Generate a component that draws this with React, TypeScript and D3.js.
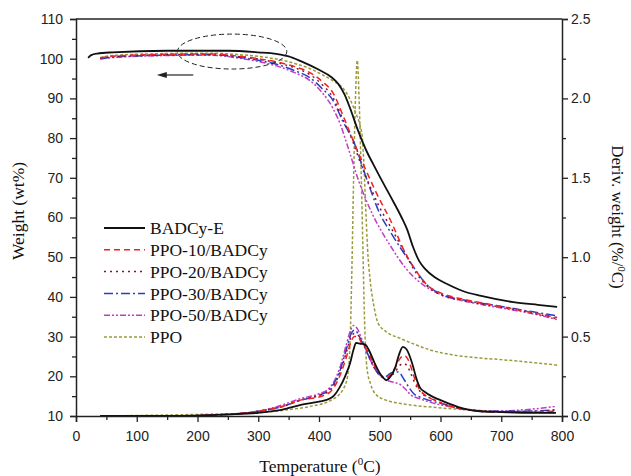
import React, { useEffect, useRef } from 'react';
import * as d3 from 'd3';

// TG curves: [temperature °C, weight %]
const badcyTG = [[20,100.2],[25,100.9],[35,101.3],[60,101.6],[150,102.0],[250,102.0],[300,101.6],[330,101.2],[350,100.6],[370,99.4],[400,97.2],[420,95.4],[432,93.6],[442,91.0],[451,87.6],[464,82.0],[479,76.5],[489,73.5],[500,70.3],[517,65.5],[536,60.0],[545,57.0],[555,52.5],[565,49.0],[575,47.0],[590,45.0],[610,43.3],[640,41.3],[665,40.3],[720,38.7],[760,38.0],[792,37.5]];
const ppo10TG = [[40,100.2],[60,100.6],[150,101.1],[220,101.2],[270,100.6],[300,100.0],[330,99.2],[360,98.0],[385,96.5],[405,94.3],[423,91.4],[440,85.5],[456,79.5],[467,75.5],[480,71.0],[495,66.0],[517,59.5],[544,50.5],[560,46.5],[578,43.0],[600,41.0],[632,39.6],[686,38.0],[740,36.4],[792,34.8]];
const ppo20TG = [[40,100.1],[60,100.5],[150,101.0],[220,101.1],[270,100.5],[300,99.9],[330,99.0],[360,97.7],[385,96.0],[405,93.5],[423,90.2],[440,84.5],[456,79.0],[470,73.0],[485,67.5],[500,62.5],[520,57.0],[540,51.5],[560,46.0],[580,42.5],[600,40.6],[640,39.0],[700,37.4],[750,36.0],[792,34.5]];
const ppo30TG = [[40,100.0],[60,100.4],[150,100.9],[220,101.0],[270,100.3],[300,99.6],[330,98.6],[360,97.0],[385,95.2],[405,92.5],[423,89.5],[440,84.0],[456,79.5],[479,69.5],[500,61.0],[517,56.5],[533,52.6],[550,48.8],[561,46.3],[578,43.0],[600,40.8],[650,38.9],[700,37.6],[750,36.3],[792,35.2]];
const ppo50TG = [[40,99.9],[60,100.3],[150,100.8],[220,100.9],[270,100.1],[300,99.3],[330,98.2],[360,96.5],[385,94.5],[405,91.5],[423,87.5],[435,83.5],[446,78.5],[467,68.5],[489,60.5],[517,53.0],[544,47.0],[570,43.2],[600,40.6],[650,38.6],[700,37.2],[750,35.8],[792,34.3]];
const ppoTG = [[40,100.3],[60,100.8],[150,101.3],[220,101.4],[270,101.0],[300,100.6],[330,99.9],[360,98.8],[385,97.5],[405,96.0],[423,94.4],[440,92.5],[451,89.8],[460,86.5],[467,83.5],[471,80.5],[474,73.0],[477,62.0],[480,52.0],[484,44.5],[490,38.0],[497,33.5],[510,31.3],[533,29.6],[560,27.9],[588,26.4],[620,25.4],[665,24.6],[700,24.2],[750,23.5],[792,22.8]];

// DTG curves: [temperature °C, deriv. weight %/°C]
const badcyDTG = [[40,0.0],[150,0.0],[250,0.01],[300,0.02],[340,0.04],[370,0.07],[400,0.09],[418,0.11],[425,0.13],[434,0.18],[443,0.25],[451,0.33],[457,0.42],[461,0.46],[468,0.455],[476,0.45],[484,0.40],[492,0.33],[500,0.27],[506,0.24],[511,0.225],[518,0.25],[525,0.30],[532,0.39],[538,0.435],[544,0.42],[550,0.37],[555,0.31],[560,0.24],[566,0.18],[575,0.15],[583,0.13],[600,0.10],[616,0.075],[640,0.045],[665,0.03],[700,0.025],[750,0.02],[790,0.02]];
const ppo10DTG = [[40,0.0],[150,0.0],[250,0.01],[300,0.03],[340,0.06],[370,0.10],[400,0.12],[418,0.15],[434,0.25],[445,0.37],[452,0.46],[458,0.50],[464,0.50],[470,0.46],[478,0.42],[486,0.36],[495,0.29],[503,0.25],[510,0.24],[518,0.26],[526,0.31],[533,0.36],[540,0.38],[546,0.36],[552,0.30],[558,0.23],[565,0.17],[575,0.13],[590,0.10],[610,0.07],[640,0.04],[700,0.025],[750,0.025],[790,0.03]];
const ppo20DTG = [[40,0.0],[150,0.0],[250,0.01],[300,0.03],[340,0.06],[370,0.10],[400,0.13],[418,0.16],[434,0.27],[445,0.40],[452,0.49],[458,0.52],[464,0.51],[470,0.47],[478,0.42],[486,0.35],[495,0.28],[503,0.25],[510,0.24],[518,0.25],[526,0.28],[533,0.32],[540,0.33],[546,0.31],[552,0.26],[560,0.19],[570,0.14],[585,0.11],[610,0.07],[640,0.04],[700,0.025],[750,0.03],[790,0.035]];
const ppo30DTG = [[40,0.0],[150,0.0],[250,0.01],[300,0.03],[340,0.06],[370,0.10],[400,0.13],[418,0.17],[434,0.28],[445,0.42],[452,0.51],[458,0.54],[464,0.52],[470,0.47],[478,0.41],[486,0.34],[495,0.28],[503,0.25],[510,0.25],[518,0.27],[526,0.28],[533,0.27],[540,0.23],[548,0.18],[556,0.14],[566,0.12],[580,0.10],[600,0.08],[630,0.05],[680,0.03],[740,0.03],[790,0.04]];
const ppo50DTG = [[40,0.0],[150,0.0],[250,0.01],[300,0.03],[340,0.07],[370,0.11],[400,0.14],[418,0.18],[434,0.30],[445,0.45],[452,0.54],[457,0.57],[463,0.55],[470,0.49],[478,0.41],[486,0.34],[495,0.28],[505,0.24],[515,0.22],[525,0.21],[533,0.20],[542,0.17],[552,0.13],[565,0.11],[580,0.09],[600,0.07],[630,0.05],[680,0.03],[740,0.04],[790,0.06]];
const ppoDTG = [[40,0.0],[200,0.01],[300,0.02],[350,0.04],[385,0.06],[420,0.10],[440,0.17],[447,0.25],[451,0.45],[454,0.9],[457,1.5],[460,2.0],[463,2.24],[466,2.0],[469,1.6],[472,1.1],[475,0.6],[479,0.3],[485,0.2],[495,0.13],[510,0.10],[533,0.08],[560,0.065],[588,0.055],[620,0.045],[665,0.035],[720,0.025],[790,0.02]];

const seriesNames = ['BADCy-E', 'PPO-10/BADCy', 'PPO-20/BADCy', 'PPO-30/BADCy', 'PPO-50/BADCy', 'PPO'];
const tgData = [badcyTG, ppo10TG, ppo20TG, ppo30TG, ppo50TG, ppoTG];
const dtgData = [badcyDTG, ppo10DTG, ppo20DTG, ppo30DTG, ppo50DTG, ppoDTG];
const colors = ['#111111', '#ee2222', '#8a1030', '#2a3fc4', '#c23cc2', '#9a9a3c'];
const dashes = ['none', '6,4', '2,4', '9,3,2,3', '6,2,2,2,2,2', '3,2'];
const widths = [1.8, 1.5, 1.5, 1.5, 1.5, 1.5];

const xTicks = [0, 100, 200, 300, 400, 500, 600, 700, 800];
const yLeftTicks = [10, 20, 30, 40, 50, 60, 70, 80, 90, 100, 110];
const yRightTicks = [0, 0.5, 1.0, 1.5, 2.0, 2.5];

// annotation: dashed ellipse around onset region and arrow to left axis
const ellipseCenter = [257, 101.8];
const ellipseRadii = [90, 4.4];
const arrowFrom = [193, 95.9];
const arrowTo = [133, 95.9];

const App = () => {
  const ref = useRef(null);

  useEffect(() => {
    const svg = d3.select(ref.current);
    svg.selectAll('*').remove();

    const x = d3.scaleLinear().domain([0, 800]).range([76, 562]);
    const yL = d3.scaleLinear().domain([10, 110]).range([416, 19]);
    const yR = d3.scaleLinear().domain([0, 2.5]).range([416, 19]);

    const sans = 'Liberation Sans, Arial, sans-serif';
    const serif = 'Liberation Serif, Times New Roman, serif';

    // curves
    const tgLine = d3.line().x((d) => x(d[0])).y((d) => yL(d[1])).curve(d3.curveMonotoneX);
    const dtgLine = d3.line().x((d) => x(d[0])).y((d) => yR(d[1])).curve(d3.curveMonotoneX);

    const order = [5, 4, 3, 2, 1, 0];
    order.forEach((i) => {
      [tgLine(tgData[i]), dtgLine(dtgData[i])].forEach((p) => {
        svg
          .append('path')
          .attr('d', p)
          .attr('fill', 'none')
          .attr('stroke', colors[i])
          .attr('stroke-width', widths[i])
          .attr('stroke-dasharray', dashes[i]);
      });
    });

    // axes
    const styleAxis = (g) => {
      g.select('.domain').attr('stroke', '#222').attr('stroke-width', 1.5);
      g.selectAll('.tick line').attr('stroke', '#222').attr('stroke-width', 1.3);
      g.selectAll('text').attr('font-family', sans).attr('font-size', 14).attr('fill', '#222');
    };

    const minor = (vals) => vals.slice(0, -1).map((v, i) => (v + vals[i + 1]) / 2);

    svg.append('g').attr('transform', 'translate(0,416)')
      .call(d3.axisBottom(x).tickValues(xTicks).tickSize(6).tickPadding(9).tickFormat(d3.format('d')))
      .call(styleAxis);
    svg.append('g').attr('transform', 'translate(0,416)')
      .call(d3.axisBottom(x).tickValues(minor(xTicks)).tickSize(4).tickFormat(''))
      .call(styleAxis).call((g) => g.select('.domain').remove());

    svg.append('g').attr('transform', 'translate(76,0)')
      .call(d3.axisLeft(yL).tickValues(yLeftTicks).tickSize(6).tickPadding(7).tickFormat(d3.format('d')))
      .call(styleAxis);
    svg.append('g').attr('transform', 'translate(76,0)')
      .call(d3.axisLeft(yL).tickValues(minor(yLeftTicks)).tickSize(4).tickFormat(''))
      .call(styleAxis).call((g) => g.select('.domain').remove());

    svg.append('g').attr('transform', 'translate(562,0)')
      .call(d3.axisRight(yR).tickValues(yRightTicks).tickSize(6).tickPadding(3).tickFormat(d3.format('.1f')))
      .call(styleAxis);
    svg.append('g').attr('transform', 'translate(562,0)')
      .call(d3.axisRight(yR).tickValues(minor(yRightTicks)).tickSize(4).tickFormat(''))
      .call(styleAxis).call((g) => g.select('.domain').remove());

    svg.append('line')
      .attr('x1', x(0)).attr('x2', x(800)).attr('y1', yL(110)).attr('y2', yL(110))
      .attr('stroke', '#222').attr('stroke-width', 1.5);

    // annotation
    svg.append('ellipse')
      .attr('cx', x(ellipseCenter[0]))
      .attr('cy', yL(ellipseCenter[1]))
      .attr('rx', x(ellipseCenter[0] + ellipseRadii[0]) - x(ellipseCenter[0]))
      .attr('ry', yL(ellipseCenter[1] - ellipseRadii[1]) - yL(ellipseCenter[1]))
      .attr('fill', 'none')
      .attr('stroke', '#222')
      .attr('stroke-width', 1)
      .attr('stroke-dasharray', '5,3');

    const ax1 = x(arrowFrom[0]);
    const ax2 = x(arrowTo[0]);
    const ay = yL(arrowFrom[1]);
    svg.append('line')
      .attr('x1', ax1).attr('x2', ax2 + 8).attr('y1', ay).attr('y2', ay)
      .attr('stroke', '#222').attr('stroke-width', 1.2);
    svg.append('path')
      .attr('d', `M${ax2},${ay} L${ax2 + 10},${ay - 3} L${ax2 + 10},${ay + 3} Z`)
      .attr('fill', '#222');

    // legend
    const legend = svg.append('g');
    seriesNames.forEach((name, i) => {
      const ly = 228 + i * 21.8;
      legend.append('line')
        .attr('x1', 104).attr('x2', 145).attr('y1', ly).attr('y2', ly)
        .attr('stroke', colors[i]).attr('stroke-width', widths[i])
        .attr('stroke-dasharray', dashes[i]);
      legend.append('text')
        .attr('x', 150).attr('y', ly).attr('dy', '0.35em')
        .attr('font-family', serif).attr('font-size', 17.5).attr('fill', '#111')
        .text(name);
    });

    // axis titles
    const xt = svg.append('text')
      .attr('x', 320).attr('y', 472)
      .attr('text-anchor', 'middle')
      .attr('font-family', serif).attr('font-size', 17.5).attr('fill', '#111');
    xt.append('tspan').text('Temperature (');
    xt.append('tspan').attr('font-size', 11).attr('dy', -7).text('0');
    xt.append('tspan').attr('dy', 7).text('C)');

    svg.append('text')
      .attr('transform', 'translate(24,211) rotate(-90)')
      .attr('text-anchor', 'middle')
      .attr('font-family', serif).attr('font-size', 17.5).attr('fill', '#111')
      .text('Weight (wt%)');

    const rt = svg.append('text')
      .attr('transform', 'translate(612,217) rotate(90)')
      .attr('text-anchor', 'middle')
      .attr('font-family', serif).attr('font-size', 17).attr('fill', '#111');
    rt.append('tspan').text('Deriv. weight (%/');
    rt.append('tspan').attr('font-size', 10.5).attr('dy', -6).text('0');
    rt.append('tspan').attr('dy', 6).text('C)');
  }, []);

  return (
    <svg
      ref={ref}
      width={631}
      height={476}
      style={{ position: 'absolute', left: 0, top: 0, background: '#fff' }}
    />
  );
};

export default App;
